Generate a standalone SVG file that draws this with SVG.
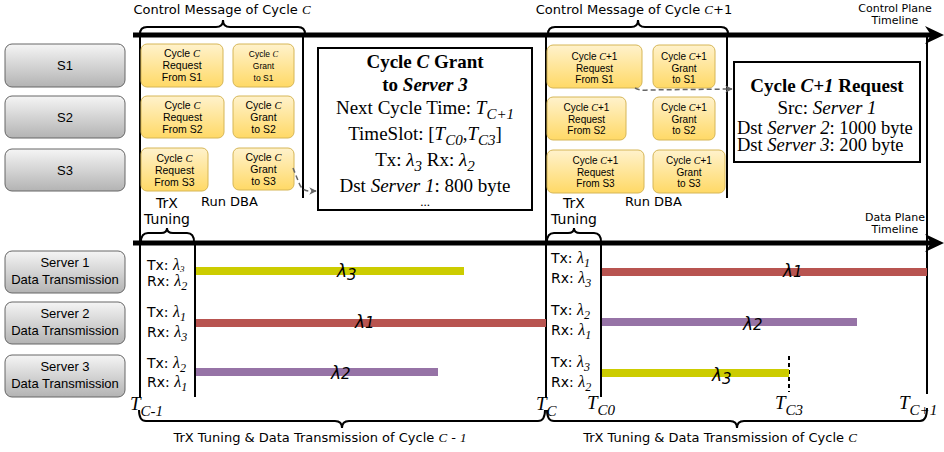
<svg xmlns="http://www.w3.org/2000/svg" width="944" height="452" viewBox="0 0 944 452">
  <defs>
    <linearGradient id="gGray" x1="0" y1="0" x2="0" y2="1">
      <stop offset="0" stop-color="#f5f5f5"/>
      <stop offset="1" stop-color="#b3b3b3"/>
    </linearGradient>
    <linearGradient id="gYel" x1="0" y1="0" x2="0" y2="1">
      <stop offset="0" stop-color="#fff2cc"/>
      <stop offset="1" stop-color="#ffd966"/>
    </linearGradient>
    <marker id="grayHead" viewBox="0 0 10 10" refX="9" refY="5" markerWidth="5" markerHeight="5" orient="auto" markerUnits="strokeWidth">
      <path d="M0,0 L10,5 L0,10 L3,5 Z" fill="#666666"/>
    </marker>
    <style>
      .gray { fill: url(#gGray); stroke: #666666; stroke-width: 1; }
      .yel { fill: url(#gYel); stroke: #d6b656; stroke-width: 1; }
      .box { fill: #ffffff; stroke: #000000; stroke-width: 2; }
      .vl { stroke: #000000; stroke-width: 2; fill: none; }
      .brace { stroke: #000000; stroke-width: 2; fill: none; }
      .axis { stroke: #000000; stroke-width: 5; }
      .sans { font-family: "Liberation Sans", Arial, sans-serif; fill: #000000; }
      .vsans { font-family: "DejaVu Sans", Verdana, sans-serif; fill: #000000; }
      .serif { font-family: "Liberation Serif", "Times New Roman", serif; fill: #000000; }
      .it { font-family: "Liberation Serif", "Times New Roman", serif; font-style: italic; }
      .mid { text-anchor: middle; }
      .dash { stroke: #666666; stroke-width: 1.5; stroke-dasharray: 5 3; fill: none; marker-end: url(#grayHead); }
      .lam { font-family: "DejaVu Sans", Verdana, sans-serif; font-style: italic; font-size: 17px; fill: #000000; }
    </style>
  </defs>

  <!-- timelines -->
  <g id="timelines">
    <line class="axis" x1="133" y1="35" x2="934" y2="35"/>
    <path d="M944,35 L925,26 L931,35 L925,44 Z" fill="#000000"/>
    <line class="axis" x1="133" y1="243" x2="934" y2="243" stroke-width="4"/>
    <path d="M944,243 L925,234 L931,243 L925,252 Z" fill="#000000"/>
    <text class="vsans mid" x="895" y="12" font-size="11">Control Plane</text>
    <text class="vsans mid" x="895" y="24" font-size="11">Timeline</text>
    <text class="vsans mid" x="895" y="221" font-size="11">Data Plane</text>
    <text class="vsans mid" x="895" y="233" font-size="11">Timeline</text>
  </g>

  <!-- cycle boundaries -->
  <g id="boundaries">
    <line class="vl" x1="140" y1="35" x2="140" y2="397"/>
    <line class="vl" x1="303" y1="35" x2="303" y2="198"/>
    <line class="vl" x1="195" y1="243" x2="195" y2="397"/>
    <line class="vl" x1="546" y1="35" x2="546" y2="397"/>
    <line class="vl" x1="727" y1="35" x2="727" y2="198"/>
    <line class="vl" x1="601" y1="243" x2="601" y2="397"/>
    <line class="vl" x1="927" y1="35" x2="927" y2="394"/>
    <line x1="789" y1="356" x2="789" y2="392" stroke="#000000" stroke-width="2" stroke-dasharray="4 3"/>
  </g>

  <!-- braces -->
  <g id="braces">
    <path class="brace" d="M140,34 Q140,27 147,27 L216,27 Q223,27 223,20 Q223,27 230,27 L298,27 Q305,27 305,34"/>
    <text class="vsans mid" x="222" y="14" font-size="13">Control Message of Cycle <tspan class="it">C</tspan></text>
    <path class="brace" d="M548,34 Q548,27 555,27 L631,27 Q638,27 638,20 Q638,27 645,27 L721,27 Q728,27 728,34"/>
    <text class="vsans mid" x="634" y="14" font-size="13">Control Message of Cycle <tspan class="it">C</tspan>+1</text>
    <path class="brace" d="M141,242 Q141,233 148,233 L161,233 Q167,233 167,228 Q167,233 173,233 L187,233 Q194,233 194,242"/>
    <path class="brace" d="M547,242 Q547,233 554,233 L568,233 Q574,233 574,228 Q574,233 580,233 L594,233 Q601,233 601,242"/>
    <path class="brace" d="M139,410 Q139,421 146,421 L335,421 Q342,421 342,428 Q342,421 349,421 L538,421 Q545,421 545,410"/>
    <path class="brace" d="M547,410 Q547,421 554,421 L730,421 Q737,421 737,428 Q737,421 744,421 L920,421 Q927,421 927,408"/>
    <text class="vsans mid" x="320" y="442" font-size="13">TrX Tuning &amp; Data Transmission of Cycle <tspan class="it">C</tspan> - <tspan class="it">1</tspan></text>
    <text class="vsans mid" x="720" y="442" font-size="13">TrX Tuning &amp; Data Transmission of Cycle <tspan class="it">C</tspan></text>
    <text class="vsans mid" x="167" y="208" font-size="14">TrX</text>
    <text class="vsans mid" x="167" y="224" font-size="14">Tuning</text>
    <text class="vsans" x="201" y="206" font-size="13">Run DBA</text>
    <text class="vsans mid" x="574" y="208" font-size="14">TrX</text>
    <text class="vsans mid" x="574" y="224" font-size="14">Tuning</text>
    <text class="vsans" x="625" y="206" font-size="13">Run DBA</text>
  </g>

  <!-- time marks -->
  <g id="time-marks" class="it" font-size="19">
    <text x="130" y="410">T<tspan dy="6" font-size="15">C-1</tspan></text>
    <text x="536" y="410">T<tspan dy="6" font-size="15">C</tspan></text>
    <text x="587" y="409">T<tspan dy="6" font-size="15">C0</tspan></text>
    <text x="775" y="409">T<tspan dy="6" font-size="15">C3</tspan></text>
    <text x="899" y="409">T<tspan dy="6" font-size="15">C+1</tspan></text>
  </g>

  <!-- switch nodes -->
  <g id="s1"><rect class="gray" x="5" y="44" width="120" height="43" rx="7"/><text class="sans mid" x="65" y="70" font-size="13">S1</text></g>
  <g id="s2"><rect class="gray" x="5" y="96" width="120" height="42" rx="7"/><text class="sans mid" x="65" y="122" font-size="13">S2</text></g>
  <g id="s3"><rect class="gray" x="5" y="149" width="120" height="42" rx="7"/><text class="sans mid" x="65" y="175" font-size="13">S3</text></g>

  <!-- server nodes -->
  <g id="server1"><rect class="gray" x="5" y="251" width="120" height="42" rx="7"/><text class="sans mid" x="65" y="267" font-size="13">Server 1</text><text class="sans mid" x="65" y="284" font-size="13">Data Transmission</text></g>
  <g id="server2"><rect class="gray" x="5" y="302" width="120" height="42" rx="7"/><text class="sans mid" x="65" y="318" font-size="13">Server 2</text><text class="sans mid" x="65" y="335" font-size="13">Data Transmission</text></g>
  <g id="server3"><rect class="gray" x="5" y="355" width="120" height="42" rx="7"/><text class="sans mid" x="65" y="371" font-size="13">Server 3</text><text class="sans mid" x="65" y="388" font-size="13">Data Transmission</text></g>

  <!-- cycle C control messages -->
  <g id="req-c-s1"><rect class="yel" x="141" y="44" width="82" height="43" rx="6"/>
    <text class="sans mid" font-size="10.5"><tspan x="182" y="57">Cycle <tspan class="it">C</tspan></tspan><tspan x="182" y="69">Request</tspan><tspan x="182" y="81">From S1</tspan></text></g>
  <g id="grant-c-s1"><rect class="yel" x="233" y="44" width="61" height="43" rx="6"/>
    <text class="sans mid" font-size="8.5"><tspan x="263.5" y="57">Cycle <tspan class="it">C</tspan></tspan><tspan x="263.5" y="69">Grant</tspan><tspan x="263.5" y="81">to S1</tspan></text></g>
  <g id="req-c-s2"><rect class="yel" x="141" y="96" width="83" height="42" rx="6"/>
    <text class="sans mid" font-size="10.5"><tspan x="182.5" y="109">Cycle <tspan class="it">C</tspan></tspan><tspan x="182.5" y="121">Request</tspan><tspan x="182.5" y="133">From S2</tspan></text></g>
  <g id="grant-c-s2"><rect class="yel" x="233" y="96" width="61" height="42" rx="6"/>
    <text class="sans mid" font-size="10.5"><tspan x="263.5" y="109">Cycle <tspan class="it">C</tspan></tspan><tspan x="263.5" y="121">Grant</tspan><tspan x="263.5" y="133">to S2</tspan></text></g>
  <g id="req-c-s3"><rect class="yel" x="141" y="148" width="67" height="43" rx="6"/>
    <text class="sans mid" font-size="10.5"><tspan x="174.5" y="162">Cycle <tspan class="it">C</tspan></tspan><tspan x="174.5" y="174">Request</tspan><tspan x="174.5" y="186">From S3</tspan></text></g>
  <g id="grant-c-s3"><rect class="yel" x="233" y="148" width="61" height="42" rx="6"/>
    <text class="sans mid" font-size="10.5"><tspan x="263.5" y="161">Cycle <tspan class="it">C</tspan></tspan><tspan x="263.5" y="173">Grant</tspan><tspan x="263.5" y="185">to S3</tspan></text></g>

  <!-- cycle C+1 control messages -->
  <g id="req-c1-s1"><rect class="yel" x="547" y="45" width="95" height="43" rx="6"/>
    <text class="sans mid" font-size="10"><tspan x="594.5" y="60">Cycle <tspan class="it">C</tspan>+1</tspan><tspan x="594.5" y="72">Request</tspan><tspan x="594.5" y="83">From S1</tspan></text></g>
  <g id="grant-c1-s1"><rect class="yel" x="653" y="45" width="62" height="43" rx="6"/>
    <text class="sans mid" font-size="10"><tspan x="684" y="60">Cycle <tspan class="it">C</tspan>+1</tspan><tspan x="684" y="72">Grant</tspan><tspan x="684" y="83">to S1</tspan></text></g>
  <g id="req-c1-s2"><rect class="yel" x="547" y="97" width="79" height="43" rx="6"/>
    <text class="sans mid" font-size="10"><tspan x="586.5" y="111">Cycle <tspan class="it">C</tspan>+1</tspan><tspan x="586.5" y="123">Request</tspan><tspan x="586.5" y="134">From S2</tspan></text></g>
  <g id="grant-c1-s2"><rect class="yel" x="653" y="97" width="62" height="43" rx="6"/>
    <text class="sans mid" font-size="10"><tspan x="684" y="111">Cycle <tspan class="it">C</tspan>+1</tspan><tspan x="684" y="123">Grant</tspan><tspan x="684" y="134">to S2</tspan></text></g>
  <g id="req-c1-s3"><rect class="yel" x="547" y="150" width="97" height="43" rx="6"/>
    <text class="sans mid" font-size="10"><tspan x="595.5" y="164">Cycle <tspan class="it">C</tspan>+1</tspan><tspan x="595.5" y="176">Request</tspan><tspan x="595.5" y="187">From S3</tspan></text></g>
  <g id="grant-c1-s3"><rect class="yel" x="653" y="150" width="72" height="43" rx="6"/>
    <text class="sans mid" font-size="10"><tspan x="689" y="164">Cycle <tspan class="it">C</tspan>+1</tspan><tspan x="689" y="176">Grant</tspan><tspan x="689" y="187">to S3</tspan></text></g>

  <!-- grant detail -->
  <g id="grant-detail">
    <rect class="box" x="318" y="48" width="214" height="162"/>
    <text class="serif mid" x="425" y="68" font-size="19" font-weight="bold">Cycle <tspan font-style="italic">C</tspan> Grant</text>
    <text class="serif mid" x="425" y="91" font-size="19" font-weight="bold">to <tspan font-style="italic">Server 3</tspan></text>
    <text class="serif mid" x="425" y="114" font-size="19">Next Cycle Time: <tspan font-style="italic">T<tspan dy="5" font-size="15">C+1</tspan></tspan></text>
    <text class="serif mid" x="425" y="140" font-size="19">TimeSlot: [<tspan font-style="italic">T<tspan dy="5" font-size="15">C0</tspan></tspan><tspan dy="-5">,</tspan><tspan font-style="italic">T<tspan dy="5" font-size="15">C3</tspan></tspan><tspan dy="-5">]</tspan></text>
    <text class="serif mid" x="425" y="166" font-size="19">Tx: <tspan font-style="italic">λ<tspan dy="5" font-size="15">3</tspan></tspan><tspan dy="-5"> Rx: </tspan><tspan font-style="italic">λ<tspan dy="5" font-size="15">2</tspan></tspan></text>
    <text class="serif mid" x="425" y="192" font-size="19">Dst <tspan font-style="italic">Server 1</tspan>: 800 byte</text>
    <text class="serif mid" x="425" y="206" font-size="13">...</text>
  </g>

  <!-- request detail -->
  <g id="request-detail">
    <rect class="box" x="734" y="62" width="186" height="100"/>
    <text class="serif mid" x="827" y="92" font-size="19" font-weight="bold">Cycle <tspan font-style="italic">C+1</tspan> Request</text>
    <text class="serif mid" x="827" y="114" font-size="19">Src: <tspan font-style="italic">Server 1</tspan></text>
    <text class="serif" x="737" y="134" font-size="18.5">Dst <tspan font-style="italic">Server 2</tspan>: 1000 byte</text>
    <text class="serif" x="737" y="151" font-size="18.5">Dst <tspan font-style="italic">Server 3</tspan>: 200 byte</text>
  </g>

  <!-- connectors -->
  <g id="connectors">
    <path class="dash" d="M293,168 L299,183 Q302,191 310,191 L316,191"/>
    <path class="dash" d="M635,88 Q640,91 648,90 L732,89"/>
  </g>

  <!-- tuning settings -->
  <g id="tuning-c" class="vsans" font-size="14">
    <text x="147" y="270">Tx: <tspan class="it" font-size="16">λ<tspan dy="2" font-size="9">3</tspan></tspan></text>
    <text x="147" y="286">Rx: <tspan class="it" font-size="16">λ<tspan dy="4" font-size="12">2</tspan></tspan></text>
    <text x="147" y="317">Tx: <tspan class="it" font-size="16">λ<tspan dy="4" font-size="12">1</tspan></tspan></text>
    <text x="147" y="337">Rx: <tspan class="it" font-size="16">λ<tspan dy="4" font-size="12">3</tspan></tspan></text>
    <text x="147" y="368">Tx: <tspan class="it" font-size="16">λ<tspan dy="4" font-size="12">2</tspan></tspan></text>
    <text x="147" y="387">Rx: <tspan class="it" font-size="16">λ<tspan dy="4" font-size="12">1</tspan></tspan></text>
  </g>
  <g id="tuning-c1" class="vsans" font-size="14">
    <text x="551" y="263">Tx: <tspan class="it" font-size="16">λ<tspan dy="4" font-size="12">1</tspan></tspan></text>
    <text x="551" y="283">Rx: <tspan class="it" font-size="16">λ<tspan dy="4" font-size="12">3</tspan></tspan></text>
    <text x="551" y="315">Tx: <tspan class="it" font-size="16">λ<tspan dy="4" font-size="12">2</tspan></tspan></text>
    <text x="551" y="335">Rx: <tspan class="it" font-size="16">λ<tspan dy="4" font-size="12">1</tspan></tspan></text>
    <text x="551" y="367">Tx: <tspan class="it" font-size="16">λ<tspan dy="4" font-size="12">3</tspan></tspan></text>
    <text x="551" y="387">Rx: <tspan class="it" font-size="16">λ<tspan dy="4" font-size="12">2</tspan></tspan></text>
  </g>

  <!-- wavelength transmissions -->
  <g id="transmissions">
    <rect x="196" y="267" width="268" height="8" fill="#cccc00"/>
    <rect x="196" y="319" width="350" height="8" fill="#b85450"/>
    <rect x="196" y="368" width="242" height="8" fill="#9673a6"/>
    <rect x="602" y="268" width="325" height="8" fill="#b85450"/>
    <rect x="602" y="318" width="255" height="8" fill="#9673a6"/>
    <rect x="602" y="369" width="187" height="8" fill="#cccc00"/>
    <text class="lam" x="337" y="277">λ<tspan dy="3" font-size="15">3</tspan></text>
    <text class="lam" x="355" y="328">λ<tspan font-size="15">1</tspan></text>
    <text class="lam" x="331" y="379">λ<tspan font-size="15">2</tspan></text>
    <text class="lam" x="783" y="277">λ<tspan font-size="15">1</tspan></text>
    <text class="lam" x="743" y="330">λ<tspan font-size="15">2</tspan></text>
    <text class="lam" x="712" y="381">λ<tspan dy="3" font-size="15">3</tspan></text>
  </g>
</svg>
